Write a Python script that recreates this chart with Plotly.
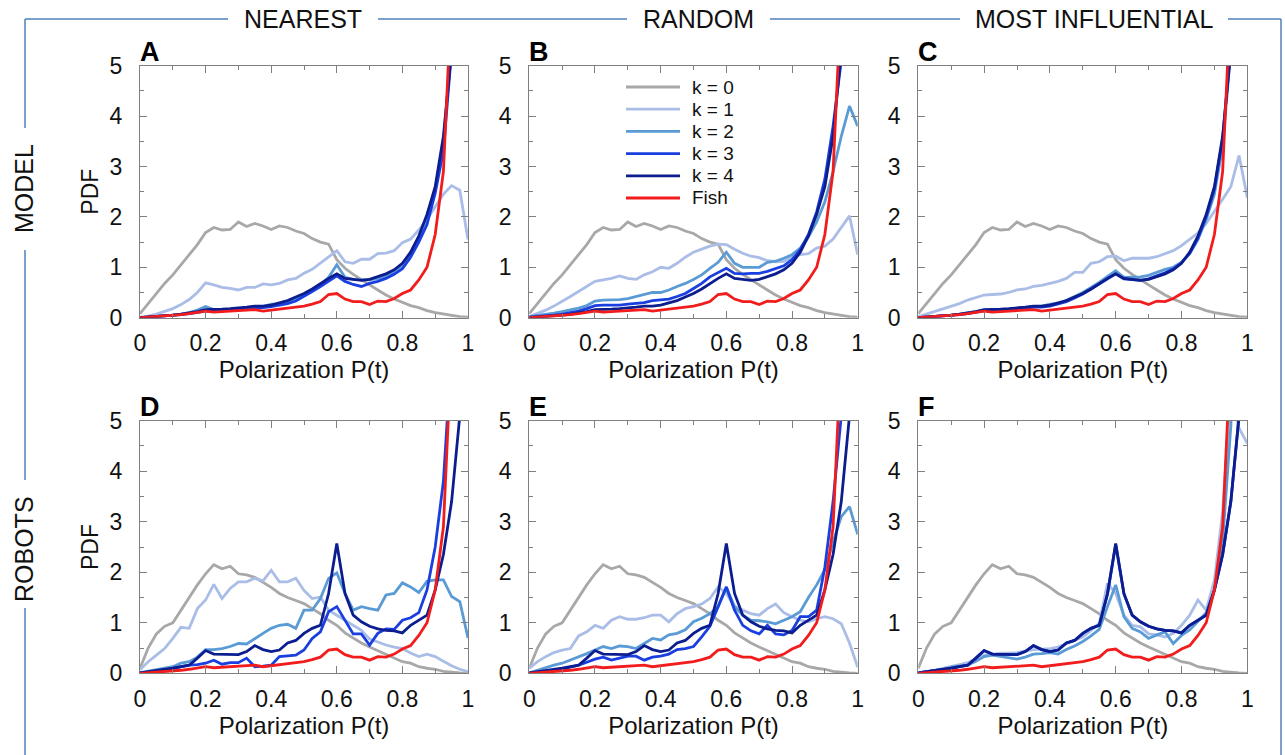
import plotly.graph_objects as go

# ---------------- data ----------------
X = [0, 0.025, 0.05, 0.075, 0.1, 0.125, 0.15, 0.175, 0.2, 0.225,
     0.25, 0.275, 0.3, 0.325, 0.35, 0.375, 0.4, 0.425, 0.45, 0.475,
     0.5, 0.525, 0.55, 0.575, 0.6, 0.625, 0.65, 0.675, 0.7, 0.725,
     0.75, 0.775, 0.8, 0.825, 0.85, 0.875, 0.9, 0.925, 0.95, 0.975,
     1.0]

SERIES_NAMES = ["k = 0", "k = 1", "k = 2", "k = 3", "k = 4", "Fish"]
COLUMN_TITLES = ["NEAREST", "RANDOM", "MOST INFLUENTIAL"]
ROW_TITLES = ["MODEL", "ROBOTS"]
PANEL_LETTERS = ["A", "B", "C", "D", "E", "F"]
X_TICKS = [0, 0.2, 0.4, 0.6, 0.8, 1]
X_TICK_TEXT = ["0", "0.2", "0.4", "0.6", "0.8", "1"]
Y_TICKS = [0, 1, 2, 3, 4, 5]

fish = [0, 0.01, 0.02, 0.03, 0.04, 0.06, 0.08, 0.10, 0.13, 0.11,
        0.12, 0.13, 0.13, 0.14, 0.16, 0.13, 0.15, 0.17, 0.18, 0.20,
        0.23, 0.27, 0.32, 0.46, 0.48, 0.37, 0.32, 0.32, 0.26, 0.33,
        0.32, 0.38, 0.48, 0.55, 0.75, 1.00, 1.65, 2.90, 5.30, 10.0,
        18.0]

k0_model = [0.08, 0.28, 0.48, 0.68, 0.85, 1.05, 1.25, 1.45, 1.69, 1.79,
            1.74, 1.75, 1.90, 1.81, 1.87, 1.82, 1.75, 1.82, 1.79, 1.72,
            1.67, 1.57, 1.50, 1.46, 1.15, 0.98, 0.86, 0.75, 0.65, 0.55,
            0.45, 0.37, 0.30, 0.24, 0.20, 0.14, 0.10, 0.07, 0.04, 0.02,
            0.01]

k4_model = [0, 0.01, 0.02, 0.03, 0.05, 0.07, 0.09, 0.12, 0.16, 0.16,
            0.17, 0.18, 0.19, 0.21, 0.23, 0.23, 0.25, 0.29, 0.34, 0.41,
            0.48, 0.57, 0.68, 0.78, 0.87, 0.78, 0.76, 0.74, 0.76, 0.81,
            0.87, 0.95, 1.08, 1.30, 1.62, 2.05, 2.60, 3.60, 5.30, 9.0,
            15.0]

k1_A = [0.01, 0.03, 0.07, 0.12, 0.18, 0.26, 0.36, 0.50, 0.69, 0.65,
        0.60, 0.58, 0.55, 0.60, 0.60, 0.67, 0.65, 0.68, 0.75, 0.78,
        0.88, 0.96, 1.08, 1.21, 1.33, 1.11, 1.08, 1.16, 1.16, 1.27,
        1.28, 1.33, 1.49, 1.56, 1.74, 1.95, 2.20, 2.45, 2.62, 2.53,
        1.55]
k2_A = [0, 0.01, 0.02, 0.03, 0.05, 0.07, 0.10, 0.15, 0.22, 0.16,
        0.16, 0.17, 0.18, 0.20, 0.22, 0.22, 0.27, 0.27, 0.32, 0.38,
        0.45, 0.53, 0.65, 0.80, 1.05, 0.80, 0.76, 0.75, 0.75, 0.78,
        0.82, 0.90, 1.02, 1.28, 1.60, 2.00, 2.55, 3.50, 5.40, 9.0,
        15.0]
k3_A = [0, 0.01, 0.02, 0.03, 0.04, 0.06, 0.08, 0.10, 0.13, 0.13,
        0.14, 0.15, 0.17, 0.18, 0.20, 0.20, 0.22, 0.25, 0.28, 0.33,
        0.42, 0.52, 0.62, 0.72, 0.83, 0.72, 0.66, 0.62, 0.68, 0.72,
        0.78, 0.86, 0.97, 1.20, 1.50, 1.85, 2.47, 3.30, 5.30, 9.0,
        15.0]

k1_B = [0.02, 0.08, 0.15, 0.23, 0.32, 0.42, 0.52, 0.62, 0.72, 0.75,
        0.78, 0.83, 0.78, 0.76, 0.85, 0.91, 1.00, 0.98, 1.08, 1.20,
        1.30, 1.36, 1.42, 1.46, 1.45, 1.36, 1.28, 1.22, 1.19, 1.13,
        1.11, 1.12, 1.20, 1.25, 1.27, 1.38, 1.42, 1.56, 1.80, 2.02,
        1.25]
k2_B = [0.02, 0.04, 0.06, 0.09, 0.12, 0.15, 0.19, 0.24, 0.33, 0.35,
        0.35, 0.36, 0.38, 0.42, 0.45, 0.50, 0.50, 0.55, 0.62, 0.68,
        0.76, 0.85, 0.98, 1.10, 1.30, 1.08, 1.00, 1.00, 1.00, 1.10,
        1.12, 1.18, 1.25, 1.38, 1.60, 1.90, 2.30, 2.90, 3.60, 4.20,
        3.80]
k3_B = [0.01, 0.02, 0.03, 0.05, 0.07, 0.10, 0.13, 0.18, 0.24, 0.25,
        0.25, 0.25, 0.27, 0.28, 0.30, 0.34, 0.36, 0.37, 0.42, 0.48,
        0.58, 0.68, 0.81, 0.90, 0.98, 0.88, 0.87, 0.88, 0.88, 0.92,
        0.97, 1.03, 1.15, 1.35, 1.65, 2.10, 2.75, 3.80, 5.10, 9.0,
        15.0]

k1_C = [0.02, 0.07, 0.12, 0.17, 0.22, 0.28, 0.35, 0.40, 0.45, 0.46,
        0.47, 0.50, 0.55, 0.57, 0.62, 0.64, 0.68, 0.72, 0.78, 0.90,
        0.90, 1.08, 1.11, 1.21, 1.22, 1.13, 1.18, 1.18, 1.18, 1.21,
        1.27, 1.33, 1.43, 1.56, 1.68, 1.87, 2.10, 2.35, 2.60, 3.22,
        2.38]
k2_C = [0, 0.01, 0.02, 0.03, 0.05, 0.07, 0.09, 0.12, 0.15, 0.15,
        0.16, 0.17, 0.18, 0.20, 0.22, 0.23, 0.27, 0.28, 0.34, 0.42,
        0.50, 0.60, 0.70, 0.82, 0.93, 0.80, 0.80, 0.81, 0.84, 0.90,
        0.96, 1.00, 1.10, 1.27, 1.55, 1.95, 2.45, 3.40, 5.30, 9.0,
        15.0]
k3_C = [0, 0.01, 0.02, 0.03, 0.04, 0.06, 0.08, 0.11, 0.14, 0.14,
        0.15, 0.16, 0.17, 0.19, 0.21, 0.21, 0.23, 0.27, 0.32, 0.39,
        0.47, 0.57, 0.67, 0.78, 0.87, 0.77, 0.76, 0.74, 0.77, 0.83,
        0.89, 0.97, 1.09, 1.28, 1.58, 2.00, 2.55, 3.55, 5.40, 9.0,
        15.0]

k0_robots = [0.10, 0.50, 0.78, 0.93, 1.00, 1.25, 1.50, 1.75, 1.97, 2.15,
             2.07, 2.12, 1.97, 1.95, 1.90, 1.80, 1.70, 1.58, 1.50, 1.44,
             1.38, 1.28, 1.18, 1.05, 0.95, 0.80, 0.70, 0.60, 0.52, 0.45,
             0.38, 0.30, 0.23, 0.20, 0.13, 0.10, 0.08, 0.04, 0.02, 0.01,
             0.0]
k4_robots = [0.01, 0.03, 0.05, 0.07, 0.10, 0.13, 0.16, 0.30, 0.45, 0.38,
             0.38, 0.37, 0.37, 0.43, 0.55, 0.47, 0.43, 0.46, 0.60, 0.65,
             0.79, 0.89, 0.95, 1.58, 2.57, 1.58, 1.15, 1.02, 0.93, 0.88,
             0.85, 0.84, 0.80, 0.95, 1.05, 1.15, 1.65, 2.35, 3.40, 5.10,
             9.0]

k1_D = [0.07, 0.23, 0.36, 0.49, 0.69, 0.91, 0.89, 1.28, 1.45, 1.76,
        1.48, 1.68, 1.81, 1.81, 1.88, 1.83, 2.04, 1.81, 1.81, 1.88,
        1.64, 1.48, 1.51, 1.25, 1.15, 1.05, 0.95, 0.85, 0.68, 0.62,
        0.56, 0.52, 0.49, 0.40, 0.33, 0.38, 0.33, 0.24, 0.15, 0.08,
        0.03]
k2_D = [0.01, 0.04, 0.07, 0.10, 0.13, 0.20, 0.23, 0.32, 0.47, 0.47,
        0.49, 0.53, 0.59, 0.58, 0.69, 0.79, 0.89, 0.95, 0.97, 0.89,
        1.25, 1.25, 1.48, 1.88, 1.99, 1.58, 1.25, 1.32, 1.28, 1.25,
        1.55, 1.58, 1.79, 1.71, 1.60, 1.82, 1.85, 1.85, 1.52, 1.42,
        0.70]
k3_D = [0.01, 0.02, 0.03, 0.05, 0.10, 0.13, 0.16, 0.17, 0.20, 0.26,
        0.18, 0.21, 0.21, 0.30, 0.13, 0.14, 0.16, 0.33, 0.34, 0.36,
        0.46, 0.69, 0.82, 1.22, 1.32, 1.05, 0.78, 0.78, 0.56, 0.79,
        0.88, 0.87, 1.05, 1.10, 1.20, 1.65, 2.50, 3.80, 5.70, 9.0,
        15.0]

k1_E = [0.10, 0.23, 0.33, 0.41, 0.46, 0.49, 0.74, 0.82, 0.95, 0.89,
        1.05, 1.12, 1.07, 1.07, 1.10, 1.15, 1.15, 1.02, 1.18, 1.28,
        1.32, 1.37, 1.48, 1.71, 1.58, 1.32, 1.25, 1.18, 1.15, 1.28,
        1.37, 1.20, 1.12, 1.05, 1.02, 1.08, 1.12, 1.08, 0.98, 0.60,
        0.12]
k2_E = [0.01, 0.06, 0.12, 0.16, 0.20, 0.26, 0.33, 0.39, 0.46, 0.53,
        0.49, 0.54, 0.53, 0.49, 0.59, 0.69, 0.66, 0.76, 0.79, 0.86,
        1.02, 1.09, 1.18, 1.32, 1.70, 1.32, 1.15, 1.05, 1.04, 1.02,
        0.98, 1.05, 1.12, 1.22, 1.50, 1.75, 2.05, 2.60, 3.10, 3.30,
        2.75]
k3_E = [0.01, 0.02, 0.04, 0.06, 0.08, 0.12, 0.16, 0.22, 0.28, 0.32,
        0.26, 0.30, 0.34, 0.34, 0.26, 0.32, 0.34, 0.38, 0.47, 0.49,
        0.53, 0.72, 0.93, 1.32, 1.71, 1.25, 0.95, 0.84, 0.78, 0.95,
        0.78, 0.76, 0.85, 1.12, 1.12, 1.25, 2.10, 3.40, 5.10, 9.0,
        15.0]

k1_F = [0.01, 0.03, 0.06, 0.10, 0.13, 0.17, 0.21, 0.28, 0.36, 0.38,
        0.40, 0.40, 0.41, 0.44, 0.47, 0.48, 0.49, 0.52, 0.59, 0.65,
        0.72, 0.85, 0.99, 1.78, 1.58, 1.15, 0.95, 0.92, 0.78, 0.76,
        0.72, 0.79, 0.95, 1.15, 1.45, 1.25, 1.84, 3.20, 5.60, 4.85,
        4.55]
k2_F = [0.01, 0.03, 0.05, 0.08, 0.12, 0.14, 0.16, 0.24, 0.33, 0.36,
        0.33, 0.30, 0.28, 0.32, 0.38, 0.39, 0.41, 0.38, 0.47, 0.54,
        0.63, 0.74, 0.87, 1.32, 1.75, 1.12, 0.89, 0.82, 0.69, 0.76,
        0.82, 0.59, 0.75, 0.86, 1.02, 1.20, 1.65, 2.60, 4.90, 8.0,
        13.0]
k3_F = [0.01, 0.03, 0.05, 0.07, 0.10, 0.13, 0.16, 0.30, 0.45, 0.38,
        0.38, 0.37, 0.37, 0.43, 0.55, 0.47, 0.43, 0.46, 0.60, 0.65,
        0.79, 0.89, 0.95, 1.56, 2.55, 1.57, 1.15, 1.02, 0.93, 0.88,
        0.85, 0.84, 0.80, 0.95, 1.05, 1.15, 1.64, 2.34, 3.40, 5.10,
        9.0]

PANELS = [
    [k0_model, k1_A, k2_A, k3_A, k4_model, fish],
    [k0_model, k1_B, k2_B, k3_B, k4_model, fish],
    [k0_model, k1_C, k2_C, k3_C, k4_model, fish],
    [k0_robots, k1_D, k2_D, k3_D, k4_robots, fish],
    [k0_robots, k1_E, k2_E, k3_E, k4_robots, fish],
    [k0_robots, k1_F, k2_F, k3_F, k4_robots, fish],
]

# ---------------- styling ----------------
COLORS = ["#a8a8a8", "#a9bde6", "#5b9bd5", "#1a3fe0", "#0c1d8f", "#f21c1c"]
FRAME = "#4f81bd"
AXIS = "#808080"
FONT = "Liberation Sans, Arial, Helvetica, sans-serif"
W, H = 1285, 755
LINE_W = 2.8


def xp(px):
    return px / W


def yp(py):
    return 1 - py / H


COLS_PX = [(140, 468), (529.3, 857.7), (918.3, 1247.3)]
ROWS_PX = [(65.7, 317.7), (420.7, 673.3)]

fig = go.Figure()
layout = dict(
    width=W, height=H,
    margin=dict(l=0, r=0, t=0, b=0, autoexpand=False),
    paper_bgcolor="white", plot_bgcolor="white",
    showlegend=False,
    font=dict(family=FONT, color="#111111"),
)

for p, series in enumerate(PANELS):
    n = p + 1
    sfx = "" if n == 1 else str(n)
    r, c = divmod(p, 3)
    for s, (ys, col) in enumerate(zip(series, COLORS)):
        fig.add_trace(go.Scatter(
            x=X, y=ys, mode="lines", name=SERIES_NAMES[s],
            line=dict(color=col, width=LINE_W),
            xaxis="x" + sfx, yaxis="y" + sfx, showlegend=False,
            hoverinfo="skip",
        ))
    common = dict(showline=True, mirror="ticks", linecolor=AXIS, linewidth=1.3,
                  ticks="inside", ticklen=7, tickwidth=1.2, tickcolor=AXIS,
                  showgrid=False, zeroline=False, automargin=False,
                  tickfont=dict(size=23, family=FONT, color="#111111"))
    layout["xaxis" + sfx] = dict(
        common, domain=[xp(COLS_PX[c][0]), xp(COLS_PX[c][1])],
        anchor="y" + sfx, range=[0, 1],
        tickmode="array", tickvals=X_TICKS, ticktext=X_TICK_TEXT,
        minor=dict(ticks="inside", ticklen=4, tickwidth=1.2, tickcolor=AXIS,
                   tickvals=[0.1, 0.3, 0.5, 0.7, 0.9]),
        ticklabelstandoff=5,
        title=dict(text="Polarization P(t)", standoff=4,
                   font=dict(size=24, family=FONT, color="#111111")),
    )
    layout["yaxis" + sfx] = dict(
        common, domain=[yp(ROWS_PX[r][1]), yp(ROWS_PX[r][0])],
        anchor="x" + sfx, range=[0, 5],
        tickmode="array", tickvals=Y_TICKS,
        minor=dict(ticks="inside", ticklen=4, tickwidth=1.2, tickcolor=AXIS,
                   tickvals=[0.5, 1.5, 2.5, 3.5, 4.5]),
        ticklabelstandoff=12,
        title=dict(text="PDF" if c == 0 else "", standoff=4,
                   font=dict(size=23, family=FONT, color="#111111")),
    )

annotations = []
shapes = []

# panel letters
for p, letter in enumerate(PANEL_LETTERS):
    r, c = divmod(p, 3)
    annotations.append(dict(
        text="<b>%s</b>" % letter, xref="paper", yref="paper",
        x=xp(COLS_PX[c][0] - 2), y=yp(ROWS_PX[r][0] - 14),
        xanchor="left", yanchor="middle", showarrow=False,
        font=dict(size=27, family=FONT, color="#000000")))

# column and row headers
for title, cx in zip(COLUMN_TITLES, [303, 699, 1094]):
    annotations.append(dict(text=title, xref="paper", yref="paper",
                            x=xp(cx), y=yp(19), xanchor="center", yanchor="middle",
                            showarrow=False, font=dict(size=25, family=FONT, color="#111111")))
for title, cy in zip(ROW_TITLES, [189, 549]):
    annotations.append(dict(text=title, xref="paper", yref="paper", textangle=-90,
                            x=xp(24), y=yp(cy), xanchor="center", yanchor="middle",
                            showarrow=False, font=dict(size=25, family=FONT, color="#111111")))

# frame lines (layout decoration)
def seg(x0, y0, x1, y1):
    shapes.append(dict(type="line", xref="paper", yref="paper",
                       x0=xp(x0), y0=yp(y0), x1=xp(x1), y1=yp(y1),
                       line=dict(color=FRAME, width=1.5)))

for a, b in [(25, 228), (378, 627), (770, 960), (1228, 1281)]:
    seg(a, 19, b, 19)
seg(1281, 19, 1281, 760)
for a, b in [(19, 128), (250, 480), (608, 760)]:
    seg(25, a, 25, b)

# legend inside panel B
for i, (name, col) in enumerate(zip(SERIES_NAMES, COLORS)):
    ly = 87 + 22.2 * i
    shapes.append(dict(type="line", xref="paper", yref="paper",
                       x0=xp(626), x1=xp(680), y0=yp(ly), y1=yp(ly),
                       line=dict(color=col, width=LINE_W)))
    annotations.append(dict(text=name, xref="paper", yref="paper",
                            x=xp(690), y=yp(ly), xanchor="left", yanchor="middle",
                            showarrow=False, font=dict(size=19, family=FONT, color="#111111")))

layout["annotations"] = annotations
layout["shapes"] = shapes
fig.update_layout(**layout)
fig.write_html("out.html")
